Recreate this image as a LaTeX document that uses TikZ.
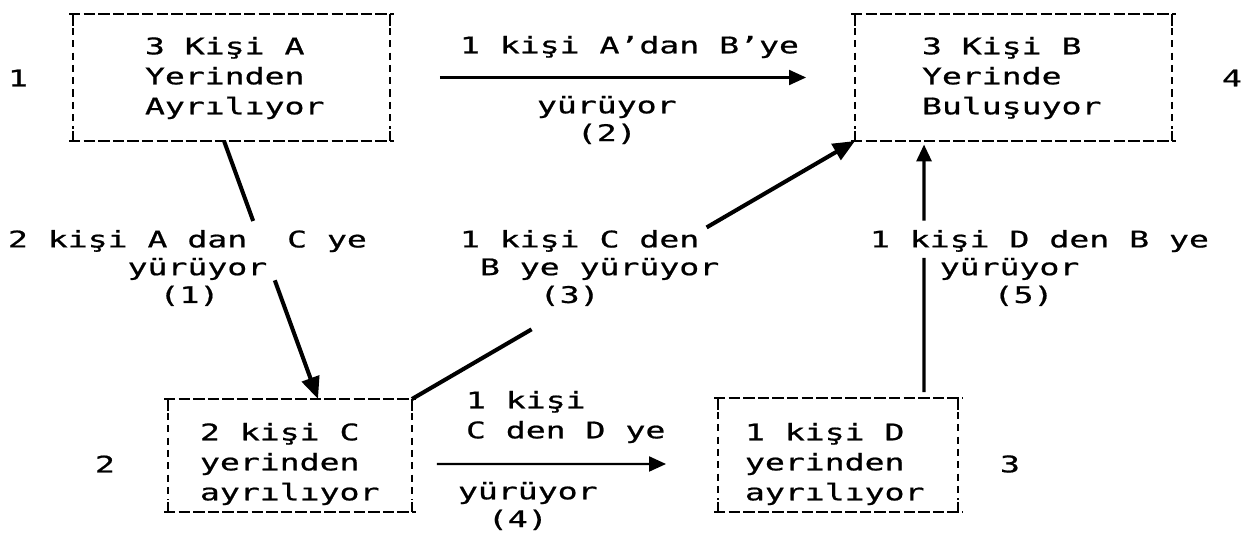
\documentclass[tikz,border=0pt]{standalone}
\usepackage{fontspec}
\usetikzlibrary{arrows.meta,calc}
\newfontfamily\dotfont[FakeStretch=1.45,FakeBold=0.8]{DejaVu Sans Mono}
\newlength\chw
\settowidth\chw{\dotfont\fontsize{13}{17}\selectfont 0}
\begin{document}
\begin{tikzpicture}[x=0.02cm,y=-0.02cm,
  every node/.style={font=\dotfont\fontsize{13}{17.07}\selectfont, inner sep=0pt, outer sep=0pt},
  box/.style={line width=0.9pt},
  hedge/.style={line width=0.9pt, dash pattern=on 6.5pt off 1.8pt},
  vedge/.style={line width=0.9pt, dash pattern=on 4pt off 3pt},
  tick/.style={line width=0.9pt},
  txt/.style={align=left, anchor=west},
  lbl/.style={align=left, anchor=west, font=\dotfont\fontsize{13}{15.8}\selectfont},
  conn/.style={line width=2.3pt},
  thinconn/.style={line width=1.2pt},
  bigtip/.style={-{Triangle[length=0.44cm,width=0.36cm]}},
  smalltip/.style={-{Triangle[length=0.34cm,width=0.3cm]}},
]
\fill[white] (0,0) rectangle (1255,536);
\useasboundingbox (0,0) rectangle (1255,536);

% boxes
\node[box, minimum width=6.34cm, minimum height=2.54cm] (A) at (231.5,77.5) {};
\node[box, minimum width=6.34cm, minimum height=2.54cm] (B) at (1013.5,77.5) {};
\node[box, minimum width=4.88cm, minimum height=2.26cm] (C) at (290,455.5) {};
\node[box, minimum width=4.80cm, minimum height=2.28cm] (D) at (838,455) {};
\foreach \n in {A,B,C,D}{
  \draw[hedge] ($(\n.north west)+(-4,0)$) -- ($(\n.north east)+(4,0)$);
  \draw[hedge] ($(\n.south west)+(-4,0)$) -- ($(\n.south east)+(4,0)$);
  \draw[vedge] ($(\n.north west)+(0,14)$) -- ($(\n.south west)+(0,-12)$);
  \draw[vedge] ($(\n.north east)+(0,14)$) -- ($(\n.south east)+(0,-12)$);
  \draw[tick] (\n.north west) -- ++(0,12);
  \draw[tick] (\n.north east) -- ++(0,12);
  \draw[tick] (\n.south west) -- ++(0,-10);
  \draw[tick] (\n.south east) -- ++(0,-10);
}

% box texts
\node[txt] (At) at (145,78) {3 Kişi A\\Yerinden\\Ayrılıyor};
\node[txt] (Bt) at (922,78) {3 Kişi B\\Yerinde\\Buluşuyor};
\node[txt] (Ct) at (200,464) {2 kişi C\\yerinden\\ayrılıyor};
\node[txt] (Dt) at (745,464) {1 kişi D\\yerinden\\ayrılıyor};

% side numbers
\node (n1) at (18,78) {1};
\node (n4) at (1232,78) {4};
\node (n2) at (105,464) {2};
\node (n3) at (1010,464) {3};

% A -> B
\draw[thinconn, smalltip, shorten <=1cm, shorten >=0.98cm] (A.east) -- (B.west);
\node[anchor=west] (l2a) at (460,47) {1 kişi A’dan B’ye};
\node[lbl] (l2b) at (537,120) {yürüyor\\\hspace*{2\chw}(2)};

% A -> C
\coordinate (p1) at ($(A.south west)+(151,0)$);
\coordinate (p2) at ($(C.north west)+(150,0)$);
\draw[conn] (p1) -- ($(p1)!0.31!(p2)$);
\draw[conn, bigtip] ($(p1)!0.54!(p2)$) -- (p2);
\node[lbl] (l1) at (8,268) {2 kişi A dan~~C ye\\\hspace*{6\chw}yürüyor\\\hspace*{7.6\chw}(1)};

% C -> B
\draw[conn] (C.north east) -- ($(C.north east)!0.27!(B.south west)$);
\draw[conn, bigtip] ($(C.north east)!0.665!(B.south west)$) -- (B.south west);
\node[lbl] (l3) at (460,268) {1 kişi C den\\\hspace*{1\chw}B ye yürüyor\\\hspace*{4\chw}(3)};

% D -> B
\coordinate (q1) at ($(D.north west)+(206,0)$);
\coordinate (q2) at ($(B.south west)+(69,0)$);
\draw[line width=1.8pt] ($(q1)+(0,-6)$) -- ($(q1)!0.545!(q2)$);
\draw[line width=1.8pt, smalltip, shorten >=2pt] ($(q1)!0.69!(q2)$) -- (q2);
\node[lbl] (l5) at (870,268) {1 kişi D den B ye\\\hspace*{3.5\chw}yürüyor\\\hspace*{6.2\chw}(5)};

% C -> D
\draw[thinconn, smalltip] ($(C.east)+(25,8.5)$) -- ($(D.west)+(-52,9)$);
\node[txt] (l4a) at (466,417) {1 kişi\\C den D ye};
\node[lbl] (l4b) at (458,506) {yürüyor\\\hspace*{1.5\chw}(4)};
\end{tikzpicture}
\end{document}
